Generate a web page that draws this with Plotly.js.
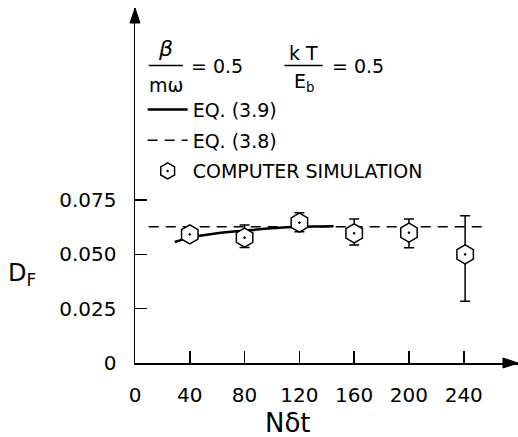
<!DOCTYPE html>
<html>
<head>
<meta charset="utf-8">
<script src="https://cdn.plot.ly/plotly-3.0.1.min.js"></script>
<style>
html,body{margin:0;padding:0;background:#fff;}
#chart{width:518px;height:437px;}
</style>
</head>
<body>
<div id="chart"></div>
<script>
// Computer simulation points
const simX = [40, 80, 120, 160, 200, 241];
const simY = [0.0592, 0.0577, 0.0646, 0.0597, 0.0600, 0.0500];
const simErrPlus = [0.0015, 0.0058, 0.0046, 0.0066, 0.0063, 0.0178];
const simErrMinus = [0.0015, 0.0045, 0.0042, 0.0054, 0.0069, 0.0216];
// EQ. (3.9) solid curve
const eq39X = [29, 40, 60, 80, 100, 120, 145];
const eq39Y = [0.0557, 0.0577, 0.0597, 0.0609, 0.0620, 0.0627, 0.0629];
// EQ. (3.8) dashed constant
const eq38X = [10, 254];
const eq38Y = [0.0627, 0.0627];
// Axis ticks
const xTickVals = [0, 40, 80, 120, 160, 200, 240];
const xTickText = ['0', '40', '80', '120', '160', '200', '240'];
const yTickVals = [0, 0.025, 0.050, 0.075];
const yTickText = ['0', '0.025', '0.050', '0.075'];

const FONT = 'DejaVu Sans, Arial, sans-serif';

const traces = [
  {
    x: eq39X, y: eq39Y, mode: 'lines', name: 'EQ. (3.9)',
    line: {color: '#000', width: 2.5, shape: 'spline'},
    legendgroup: 'a'
  },
  {
    x: eq38X, y: eq38Y, mode: 'lines', name: 'EQ. (3.8)',
    line: {color: '#000', width: 1.5, dash: '10px,7px'},
    legendgroup: 'b'
  },
  {
    x: simX, y: simY, mode: 'markers', name: 'COMPUTER SIMULATION',
    marker: {symbol: 'hexagon-dot', size: 19, color: '#fff', line: {color: '#000', width: 1.5}},
    error_y: {type: 'data', symmetric: false, array: simErrPlus, arrayminus: simErrMinus,
              color: '#000', thickness: 1.5, width: 5},
    legendgroup: 'c'
  }
];

const layout = {
  width: 518, height: 437,
  margin: {l: 135, r: 0, t: 8, b: 74},
  paper_bgcolor: '#fff', plot_bgcolor: '#fff',
  font: {family: FONT, color: '#000', size: 19},
  showlegend: true,
  legend: {
    x: 0.02, y: 0.767, xanchor: 'left', yanchor: 'top',
    bgcolor: 'rgba(0,0,0,0)', font: {family: FONT, size: 19, color: '#000'},
    tracegroupgap: 3, itemwidth: 40
  },
  xaxis: {
    range: [0, 279.6], showgrid: false, zeroline: false,
    showline: true, linecolor: '#000', linewidth: 1.5,
    ticks: 'inside', ticklen: 12, tickwidth: 1.5, tickcolor: '#000',
    tickmode: 'array', tickvals: xTickVals, ticktext: xTickText,
    tickfont: {family: FONT, size: 20, color: '#000'},
    ticklabelstandoff: 13
  },
  yaxis: {
    range: [0, 0.1634], showgrid: false, zeroline: false,
    showline: true, linecolor: '#000', linewidth: 1.5,
    ticks: 'inside', ticklen: 12, tickwidth: 1.5, tickcolor: '#000',
    tickmode: 'array', tickvals: yTickVals, ticktext: yTickText,
    tickfont: {family: FONT, size: 20, color: '#000'},
    ticklabelstandoff: 13
  },
  shapes: [
    // fraction bars
    {type: 'line', xref: 'paper', yref: 'paper', x0: 0.036, x1: 0.125, y0: 0.838, y1: 0.838, line: {color: '#000', width: 1.5}},
    {type: 'line', xref: 'paper', yref: 'paper', x0: 0.39, x1: 0.49, y0: 0.838, y1: 0.838, line: {color: '#000', width: 1.5}},
    // axis arrowheads
    {type: 'path', xref: 'paper', yref: 'paper', path: 'M 0,1 L 0.0131,0.9577 L -0.0131,0.9577 Z',
     fillcolor: '#000', line: {color: '#000', width: 1}},
    {type: 'path', xref: 'paper', yref: 'paper', path: 'M 1,0 L 0.9608,0.0141 L 0.9608,-0.0141 Z',
     fillcolor: '#000', line: {color: '#000', width: 1}}
  ],
  annotations: [
    // x title
    {xref: 'paper', yref: 'paper', x: 0.40, y: -0.169, xanchor: 'center', yanchor: 'middle',
     text: 'N\u03b4t', showarrow: false, font: {family: FONT, size: 26, color: '#000'}},
    // y label
    {xref: 'paper', yref: 'paper', x: -0.295, y: 0.25, xanchor: 'center', yanchor: 'middle',
     text: 'D<sub>F</sub>', showarrow: false, font: {family: FONT, size: 24, color: '#000'}},
    // parameter fractions
    {xref: 'paper', yref: 'paper', x: 0.08, y: 0.887, xanchor: 'center', yanchor: 'middle',
     text: '<i>\u03b2</i>', showarrow: false, font: {family: FONT, size: 22, color: '#000'}},
    {xref: 'paper', yref: 'paper', x: 0.08, y: 0.782, xanchor: 'center', yanchor: 'middle',
     text: 'm\u03c9', showarrow: false, font: {family: FONT, size: 19, color: '#000'}},
    {xref: 'paper', yref: 'paper', x: 0.14, y: 0.838, xanchor: 'left', yanchor: 'middle',
     text: '= 0.5', showarrow: false, font: {family: FONT, size: 19, color: '#000'}},
    {xref: 'paper', yref: 'paper', x: 0.44, y: 0.872, xanchor: 'center', yanchor: 'middle',
     text: 'k T', showarrow: false, font: {family: FONT, size: 19, color: '#000'}},
    {xref: 'paper', yref: 'paper', x: 0.44, y: 0.79, xanchor: 'center', yanchor: 'middle',
     text: 'E<sub>b</sub>', showarrow: false, font: {family: FONT, size: 19, color: '#000'}},
    {xref: 'paper', yref: 'paper', x: 0.51, y: 0.838, xanchor: 'left', yanchor: 'middle',
     text: '= 0.5', showarrow: false, font: {family: FONT, size: 19, color: '#000'}}
  ]
};

Plotly.newPlot('chart', traces, layout, {displayModeBar: false, staticPlot: true});
</script>
</body>
</html>
